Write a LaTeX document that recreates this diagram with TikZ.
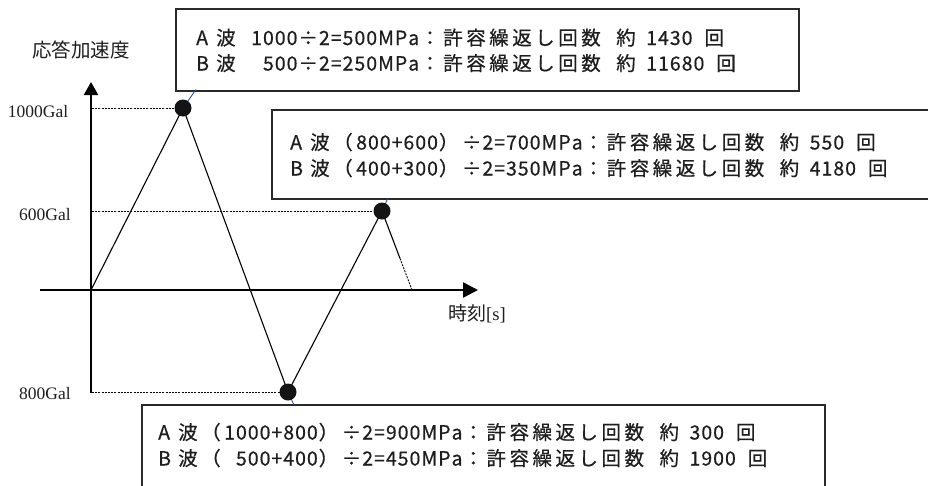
\documentclass[tikz,border=0pt]{standalone}
\usepackage{fontspec}
\setmainfont{Liberation Serif}
\newfontfamily\jp{Noto Sans CJK JP}
\newfontfamily\jpb{Noto Sans CJK JP}[FakeBold=0.5]
\usetikzlibrary{arrows.meta,calc}
\makeatletter
\def\trk#1#2{\def\trk@d{#1}\trk@a#2\trk@end}
\def\trk@a#1{\ifx#1\trk@end\else#1\kern\trk@d\relax\expandafter\trk@a\fi}
\makeatother
\newcommand\Kj[1]{\trk{3.5pt}{#1}}
\newcommand\Dg[1]{\trk{1pt}{#1}}
\newcommand\Ab[1]{\makebox[20pt][l]{\Dg{#1}}\Kj{波}}
\newcommand\Tail[1]{\Kj{：許容繰返し回数}\hspace{12pt}\Kj{約}\hspace{7pt}\Dg{#1}\hspace{11pt}\Kj{回}}
\definecolor{ink}{HTML}{1E1E1E}
\definecolor{frame}{HTML}{2A2A2A}
\definecolor{ptrblue}{HTML}{2A3C9A}
\begin{document}
\begin{tikzpicture}[x=1pt,y=-1pt,
  boxst/.style={draw=frame,line width=2pt,minimum width=#1,inner sep=0pt,anchor=north west},
  txt/.style={anchor=base west,inner sep=0pt,text=ink,font=\jpb\fontsize{19.5}{19.5}\selectfont},
  lab/.style={inner sep=0pt,text=ink,font=\fontsize{17.5}{17.5}\selectfont},
  axis/.style={line width=2.5pt,black},
  wave/.style={line width=1.1pt,black},
  guide/.style={line width=0.9pt,black,dash pattern=on 2pt off 1.2pt},
  ptr/.style={line width=0.8pt,ptrblue},
  dot/.style={circle,fill=black!92,minimum size=17pt,inner sep=0pt}]
\useasboundingbox (0,0) rectangle (928,485);
\clip (0,0) rectangle (928,485);
\fill[white] (0,0) rectangle (928,485);

% callout boxes
\node[boxst=623pt,minimum height=81.5pt] (b1) at (175,8) {};
\node[boxst=689pt,minimum height=89pt] (b2) at (271,109) {};
\node[boxst=683pt,minimum height=116pt] (b3) at (141,404) {};

% box texts
\node[txt] (t1a) at (196,45) {\Ab{A}\hspace{12pt}\Dg{1000÷2=500MPa}\Tail{1430}};
\node[txt] (t1b) at (196,70.5) {\Ab{B}\hspace{12pt}\hphantom{\Dg{0}}\Dg{500÷2=250MPa}\Tail{11680}};
\node[txt] (t2a) at (290,149.5) {\Ab{A}\Kj{（}\Dg{800+600}\Kj{）}\Dg{÷2=700MPa}\Tail{550}};
\node[txt] (t2b) at (290,175.5) {\Ab{B}\Kj{（}\Dg{400+300}\Kj{）}\Dg{÷2=350MPa}\Tail{4180}};
\node[txt] (t3a) at (158,439.5) {\Ab{A}\Kj{（}\Dg{1000+800}\Kj{）}\Dg{÷2=900MPa}\Tail{300}};
\node[txt] (t3b) at (158,465.5) {\Ab{B}\Kj{（}\hphantom{\Dg{0}}\Dg{500+400}\Kj{）}\Dg{÷2=450MPa}\Tail{1900}};

% axis labels
\node[lab,font=\jp\fontsize{19.5}{19.5}\selectfont] (ylab) at (81,50) {応答加速度};
\node[lab] (l1000) at (38,112) {1000Gal};
\node[lab] (l600) at (45,215) {600Gal};
\node[lab] (l800) at (45,394) {800Gal};
\node[lab,font=\fontsize{18.5}{18.5}\selectfont] (tlab) at (477,314) {{\jp\fontsize{19}{19}\selectfont 時刻}[s]};

% key points
\coordinate (o) at (91,290);
\coordinate (p1) at (183,108);
\coordinate (p3) at (288,392);
\coordinate (p2) at (382,211);
\coordinate (pe) at (412,290);
\coordinate (pm) at ($(p2)!0.6!(pe)$);
\coordinate (ya) at (91,393);
\coordinate (yt) at (91,82);
\coordinate (xa) at (40,290);
\coordinate (xt) at (478,290);
\coordinate (g1) at (92,108);
\coordinate (g2) at (92,211);
\coordinate (g3) at (92,392);
\coordinate (q1) at (196,89.5);
\coordinate (q2) at (388,198);
\coordinate (q3) at (294,405);

% guides
\draw[guide] (g1) -- (p1);
\draw[guide] (g2) -- (p2);
\draw[guide] (g3) -- (p3);

% axes
\draw[axis,-{Triangle[length=13pt,width=14pt]}] (ya) -- (yt);
\draw[axis,-{Triangle[length=15pt,width=15pt]}] (xa) -- (xt);

% wave
\draw[wave,line join=round] (o) -- (p1) -- (p3) -- (p2) -- (pm);
\draw[wave,dash pattern=on 2pt off 1.2pt,line width=0.9pt] (pm) -- (pe);

% pointers
\draw[ptr] (p1) -- (q1);
\draw[ptr] (p2) -- (q2);
\draw[ptr] (p3) -- (q3);

% dots
\node[dot] (d1) at (p1) {};
\node[dot] (d2) at (p2) {};
\node[dot] (d3) at (p3) {};
\end{tikzpicture}
\end{document}
